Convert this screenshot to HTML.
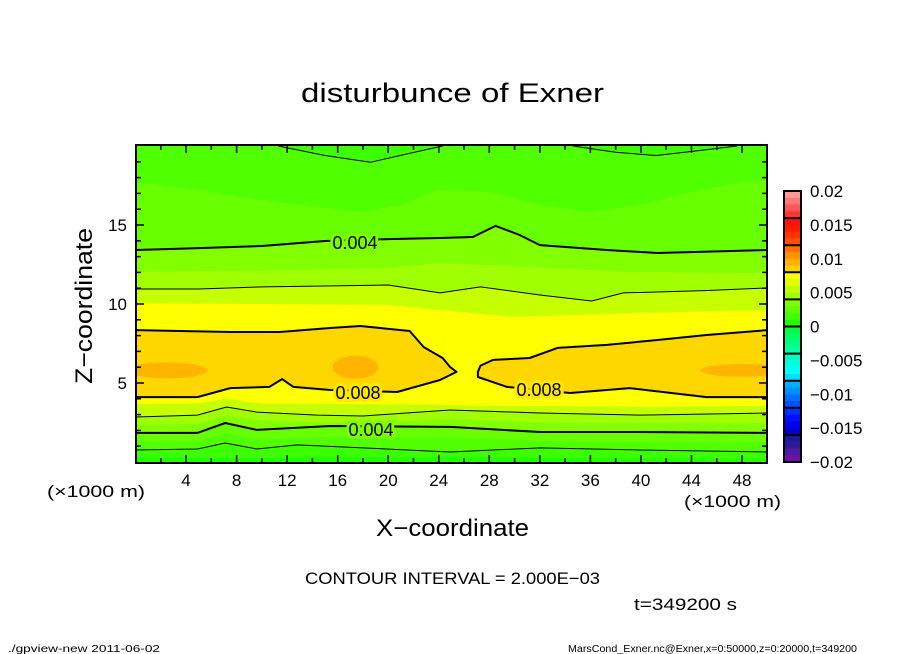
<!DOCTYPE html>
<html><head><meta charset="utf-8"><style>
html,body{margin:0;padding:0;background:#fff;}
svg{display:block;font-family:"Liberation Sans",sans-serif;}
</style></head><body>
<svg id="chart" width="904" height="654" viewBox="0 0 904 654" xmlns="http://www.w3.org/2000/svg">
<defs><clipPath id="plotclip"><rect x="136" y="145" width="631" height="318"/></clipPath></defs>
<text x="301" y="102" font-size="27" textLength="303" lengthAdjust="spacingAndGlyphs">disturbunce of Exner</text>
<g id="plot" clip-path="url(#plotclip)"></g>
<g id="labels"></g>
<rect x="136" y="145" width="631" height="318" fill="none" stroke="#000" stroke-width="2"/>
<g id="ticks"></g>
<g id="cbar"></g>
<text x="47" y="497" font-size="17" textLength="98" lengthAdjust="spacingAndGlyphs">(×1000 m)</text>
<text x="684" y="507" font-size="17" textLength="97" lengthAdjust="spacingAndGlyphs">(×1000 m)</text>
<text x="376" y="536" font-size="24" textLength="153" lengthAdjust="spacingAndGlyphs">X−coordinate</text>
<text transform="translate(92,384) rotate(-90)" font-size="24" textLength="156" lengthAdjust="spacingAndGlyphs">Z−coordinate</text>
<text x="305" y="584" font-size="17" textLength="295" lengthAdjust="spacingAndGlyphs">CONTOUR INTERVAL = 2.000E−03</text>
<text x="634" y="610" font-size="17" textLength="103" lengthAdjust="spacingAndGlyphs">t=349200 s</text>
<text x="8" y="652" font-size="10" textLength="152" lengthAdjust="spacingAndGlyphs">./gpview-new  2011-06-02</text>
<text x="568" y="652" font-size="10" textLength="289" lengthAdjust="spacingAndGlyphs">MarsCond_Exner.nc@Exner,x=0:50000,z=0:20000,t=349200</text>
</svg>
<script>
// ---- data (x, z in km) ----
const xTicks = [4,8,12,16,20,24,28,32,36,40,44,48];
const zTicks = [5,10,15];
const cbarLabels = ["0.02","0.015","0.01","0.005","0","-0.005","-0.01","-0.015","-0.02"];
const cbarColors = ["#ff9999","#ff7777","#ff5555","#ff3333","#ff1111","#ff1a00","#ff3300","#ff5000","#ff7000","#ff9000","#ffb000","#ffd000","#ffff00","#e0ff00","#c0ff00","#a0ff00","#80ff00","#60ff00","#40ff00","#20ff00","#00ff40","#00ff60","#00ff80","#00ffa0","#00ffc0","#00ffe0","#00ffff","#00e0ff","#00b0ff","#0090ff","#0070ff","#0050ff","#0030ff","#0010ff","#0000ee","#0000cc","#1a1aa0","#301a9a","#501aa0","#7010a8"];

const up3X = [0,5,10,15,18,21,24,28,32,36,40,44,48,50];
const up3Z = [17.72,17.22,16.58,16.08,15.82,16.27,17.22,17.09,16.27,15.82,16.27,17.09,17.72,17.85];
const up4X = [0,5,10,15,20,24.1,26.7,28.5,30.4,32,37.3,41.3,50];
const up4Z = [13.42,13.54,13.67,13.99,14.11,14.18,14.24,14.94,14.37,13.73,13.42,13.23,13.42];
const up5X = [0,10,20,24,30,40,50];
const up5Z = [12.03,12.1,12.3,12.6,12.4,12.0,11.97];
const up6X = [0,5,10,15,20,24.1,27.3,32,36.1,38.6,45,50];
const up6Z = [10.95,10.95,11.08,11.14,11.2,10.7,11.08,10.57,10.19,10.7,10.85,11.01];
const up7X = [0,10,20,24,30,40,50];
const up7Z = [10.06,10.0,9.94,9.62,9.18,9.43,9.62];

const goldLX = [0,7.5,11.4,15.4,17.8,21.7,22.8,24.3,24.9,25.4,24.1,20.7,15.4,12.5,11.6,10.6,7.5,4.9,0];
const goldLZ = [8.35,8.23,8.23,8.48,8.61,8.29,7.28,6.58,6.01,5.7,5.19,4.43,4.56,4.75,5.25,4.75,4.68,4.11,4.11];
const goldRX = [27.1,27.3,28.3,31.2,33.4,37.3,41.3,45.2,50,50,45.2,39.1,34.4,29.4,27.1];
const goldRZ = [5.7,6.1,6.46,6.58,7.22,7.41,7.72,8.04,8.35,4.11,4.11,4.68,4.37,4.75,5.38];
const blobX = [2.5,17.4,48];
const blobZ = [5.8,6.0,5.8];
const blobRX = [3.2,1.8,3.3];
const blobRZ = [0.5,0.73,0.4];

const lo7X = [0,5,7.2,10,20,30,40,50];
const lo7Z = [3.68,3.7,4.0,3.7,3.65,3.55,3.5,3.55];
const lo6X = [0,4.9,7.2,9.6,14.4,18,24.9,32,39.9,50];
const lo6Z = [2.85,2.97,3.48,3.16,2.97,2.91,3.29,3.10,2.97,3.10];
const lo5X = [0,5,7.2,10,18,25,32,40,50];
const lo5Z = [2.35,2.4,2.95,2.6,2.45,2.75,2.5,2.45,2.45];
const lo4X = [0,4.9,7.1,9.6,15.4,24.9,32,39.9,50];
const lo4Z = [1.84,1.84,2.47,2.03,2.28,2.22,1.90,1.90,1.84];
const lo3X = [0,5,7.1,10,14,20,25,32,40,50];
const lo3Z = [1.3,1.32,1.85,1.4,1.6,1.55,1.55,1.35,1.3,1.25];
const lo2X = [0,4.9,7.1,9.6,12.8,18,24.9,32,39.9,50];
const lo2Z = [0.76,0.82,1.20,0.82,1.08,0.89,0.63,0.89,0.76,0.63];
const lo1X = [0,10,15,20,30,40,50];
const lo1Z = [0.3,0.25,0.35,0.3,0.3,0.25,0.2];
const dip1X = [11.3,15,18.6,21.5,24.3];
const dip1Z = [20,19.4,18.97,19.5,20];
const dip2X = [34.6,38,41.2,44.5,47.6];
const dip2Z = [20,19.6,19.4,19.7,20];

// ---- axes ----
const NS='http://www.w3.org/2000/svg';
function X(x){return 135.5+x*12.636;}
function Z(z){return 462-z*15.8;}
function mk(tag,attrs,parent){const e=document.createElementNS(NS,tag);for(const k in attrs)e.setAttribute(k,attrs[k]);parent.appendChild(e);return e;}
const plot=document.getElementById('plot');
function pts(xs,zs){return xs.map((x,i)=>X(x).toFixed(1)+','+Z(zs[i]).toFixed(1)).join(' L');}

let el=mk('rect',{x:136,y:145,width:631,height:318,fill:'#50ff00'},plot);



function fillBelow(xs,zs,color,name){
  const e=mk('path',{d:'M'+pts(xs,zs)+' L'+X(50)+','+Z(-1)+' L'+X(0)+','+Z(-1)+'Z',fill:color},plot);
  
  
}
function poly(xs,zs,color,name){
  const e=mk('path',{d:'M'+pts(xs,zs)+'Z',fill:color},plot);
  
  
}
function line(xs,zs,w,name,closed){
  const e=mk('path',{d:'M'+pts(xs,zs)+(closed?'Z':''),fill:'none',stroke:'#000','stroke-width':w,'stroke-linejoin':'round'},plot);
  
  
}
fillBelow(up3X,up3Z,'#68ff00','band-upper-003');
fillBelow(up4X,up4Z,'#82ff00','band-upper-004');
fillBelow(up5X,up5Z,'#a0ff00','band-upper-005');
fillBelow(up6X,up6Z,'#c6ff00','band-upper-006');
fillBelow(up7X,up7Z,'#ffff00','band-upper-007');
poly(goldLX,goldLZ,'#ffd700','band-008-left');
poly(goldRX,goldRZ,'#ffd700','band-008-right');
for(let i=0;i<blobX.length;i++){
  const e=mk('ellipse',{cx:X(blobX[i]),cy:Z(blobZ[i]),rx:blobRX[i]*12.636,ry:blobRZ[i]*15.8,fill:'#ffb400'},plot);
  
  
}
fillBelow(lo7X,lo7Z,'#c6ff00','band-lower-007');
fillBelow(lo6X,lo6Z,'#a0ff00','band-lower-006');
fillBelow(lo5X,lo5Z,'#82ff00','band-lower-005');
fillBelow(lo4X,lo4Z,'#68ff00','band-lower-004');
fillBelow(lo3X,lo3Z,'#50ff00','band-lower-003');
fillBelow(lo2X,lo2Z,'#3cff00','band-lower-002');
fillBelow(lo1X,lo1Z,'#22ff00','band-lower-001');
poly(dip1X,dip1Z,'#3cff00','band-top-dip-1');
poly(dip2X,dip2Z,'#3cff00','band-top-dip-2');

line(up4X,up4Z,2,'contour-004-upper');
line(up6X,up6Z,1,'contour-006-upper');
line(goldLX,goldLZ,2,'contour-008-left',true);
line(goldRX,goldRZ,2,'contour-008-right',true);
line(lo6X,lo6Z,1,'contour-006-lower');
line(lo4X,lo4Z,2,'contour-004-lower');
line(lo2X,lo2Z,1,'contour-002-lower');
line(dip1X,dip1Z,1,'contour-002-top-1');
line(dip2X,dip2Z,1,'contour-002-top-2');

const labs=document.getElementById('labels');
[[355,249,'0.004','#7cff00'],[358,399,'0.008','#ffe800'],[539,396,'0.008','#ffe800'],[371,436,'0.004','#7cff00']].forEach(l=>{
  const t=mk('text',{x:l[0],y:l[1],'text-anchor':'middle','font-size':18,stroke:l[3],'stroke-width':6,'paint-order':'stroke'},labs);
  t.textContent=l[2];
  
  
});

const tk=document.getElementById('ticks');
for(let x=2;x<50;x+=2){
  const L=(x%4===0)?8:5;
  mk('line',{x1:X(x),x2:X(x),y1:145,y2:145+L,stroke:'#000','stroke-width':1.5},tk);
  mk('line',{x1:X(x),x2:X(x),y1:463,y2:463-L,stroke:'#000','stroke-width':1.5},tk);
}
for(let z=1;z<20;z++){
  const L=(z%5===0)?8:5;
  mk('line',{x1:136,x2:136+L,y1:Z(z),y2:Z(z),stroke:'#000','stroke-width':1.5},tk);
  mk('line',{x1:767,x2:767-L,y1:Z(z),y2:Z(z),stroke:'#000','stroke-width':1.5},tk);
}
xTicks.forEach(v=>{
  const t=mk('text',{x:X(v),y:486,'text-anchor':'middle','font-size':17},tk);
  t.textContent=v;
  
  
});
zTicks.forEach(v=>{
  const t=mk('text',{x:127,y:Z(v)+6,'text-anchor':'end','font-size':17},tk);
  t.textContent=v;
  
  
});

const cb=document.getElementById('cbar');
const cTop=191,cBot=462,cH=(cBot-cTop)/cbarColors.length;
cbarColors.forEach((c,i)=>{
  const r=mk('rect',{x:784,y:cTop+i*cH,width:17,height:cH+0.5,fill:c},cb);
  
  
});
for(let g=1;g<10;g++){mk('line',{x1:784,x2:801,y1:cTop+g*4*cH,y2:cTop+g*4*cH,stroke:'#000','stroke-width':2},cb);}
mk('rect',{x:784,y:cTop,width:17,height:cBot-cTop,fill:'none',stroke:'#000','stroke-width':2},cb);
cbarLabels.forEach((s,i)=>{
  const t=mk('text',{x:810,y:cTop+i*(cBot-cTop)/8+6,'font-size':17},cb);
  t.textContent=s.replace('-','\u2212');
  
  
});
</script>
</body></html>
